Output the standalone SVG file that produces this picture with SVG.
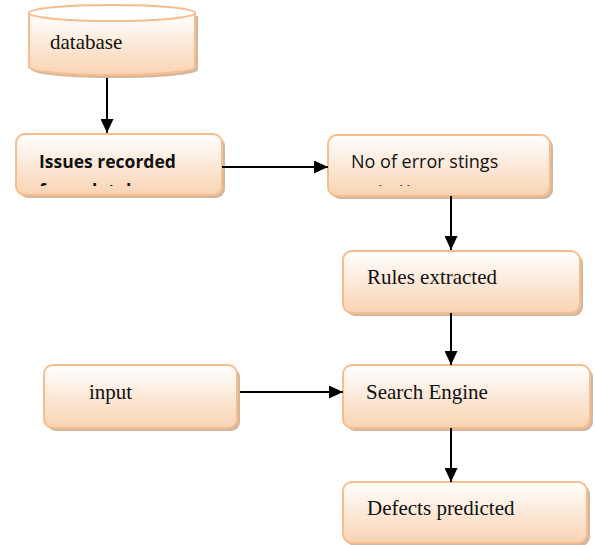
<svg xmlns="http://www.w3.org/2000/svg" width="595" height="545" viewBox="0 0 595 545">
<defs>
<linearGradient id="g" x1="0" y1="0" x2="0" y2="1">
<stop offset="0" stop-color="#ffffff"/>
<stop offset="1" stop-color="#f9d3b2"/>
</linearGradient>
<marker id="ah" viewBox="0 0 10 10" refX="10" refY="5" markerWidth="14" markerHeight="13" markerUnits="userSpaceOnUse" orient="auto" preserveAspectRatio="none">
<path d="M0,0 L10,5 L0,10 z" fill="#000"/>
</marker>
<clipPath id="c1"><rect x="16" y="134" width="206" height="52"/></clipPath>
<clipPath id="c2"><rect x="328" y="135" width="222" height="51"/></clipPath>
</defs>
<style>
.box{fill:url(#g);stroke:#f8bd8c;stroke-width:2}
.sh{fill:#c9a58a;opacity:0.8}
.t{font-family:"Liberation Serif",serif;font-size:21px;fill:#111}
.c{font-family:"Open Sans","Liberation Sans",sans-serif;fill:#111}
.e{stroke:#000;stroke-width:2;fill:none}
</style>
<g id="database">
<path class="sh" d="M32,16 L198,16 L198,70 A83,8 0 0 1 32,70 Z"/>
<path class="box" d="M29,13 L195,13 L195,67 A83,8 0 0 1 29,67 Z"/>
<ellipse cx="112" cy="13" rx="83" ry="8" fill="#fff" stroke="#f8bd8c" stroke-width="2"/>
<text class="t" x="50" y="49">database</text>
</g>
<g id="issues">
<rect class="sh" x="19" y="137" width="206" height="61" rx="9"/>
<rect class="box" x="16" y="134" width="206" height="61" rx="9"/>
<text class="c" x="39" y="168" font-size="17.5" font-weight="bold">Issues recorded</text>
<text class="c" x="39" y="197" font-size="17.5" font-weight="bold" clip-path="url(#c1)">from database</text>
</g>
<g id="errors">
<rect class="sh" x="331" y="138" width="222" height="61" rx="9"/>
<rect class="box" x="328" y="135" width="222" height="61" rx="9"/>
<text class="c" x="351" y="168" font-size="18">No of error stings</text>
<text class="c" font-size="18" y="198" clip-path="url(#c2)"><tspan x="378">i</tspan><tspan x="399">i</tspan><tspan x="406">i</tspan></text>
</g>
<g id="rules">
<rect class="sh" x="346" y="254" width="237" height="62" rx="9"/>
<rect class="box" x="343" y="251" width="237" height="62" rx="9"/>
<text class="t" x="367" y="284">Rules extracted</text>
</g>
<g id="input">
<rect class="sh" x="47" y="368" width="193" height="63" rx="9"/>
<rect class="box" x="44" y="365" width="193" height="63" rx="9"/>
<text class="t" x="89" y="399">input</text>
</g>
<g id="search">
<rect class="sh" x="346" y="368" width="247" height="63" rx="9"/>
<rect class="box" x="343" y="365" width="247" height="63" rx="9"/>
<text class="t" x="366" y="399">Search Engine</text>
</g>
<g id="defects">
<rect class="sh" x="346" y="485" width="244" height="61" rx="9"/>
<rect class="box" x="343" y="482" width="244" height="61" rx="9"/>
<text class="t" x="367" y="515">Defects predicted</text>
</g>
<g id="connectors">
<line class="e" x1="107" y1="78" x2="107" y2="133" marker-end="url(#ah)"/>
<line class="e" x1="222" y1="167" x2="328" y2="167" marker-end="url(#ah)"/>
<line class="e" x1="451" y1="196" x2="451" y2="250" marker-end="url(#ah)"/>
<line class="e" x1="451" y1="313" x2="451" y2="365" marker-end="url(#ah)"/>
<line class="e" x1="240" y1="392" x2="343" y2="392" marker-end="url(#ah)"/>
<line class="e" x1="451" y1="428" x2="451" y2="482" marker-end="url(#ah)"/>
</g>
</svg>
